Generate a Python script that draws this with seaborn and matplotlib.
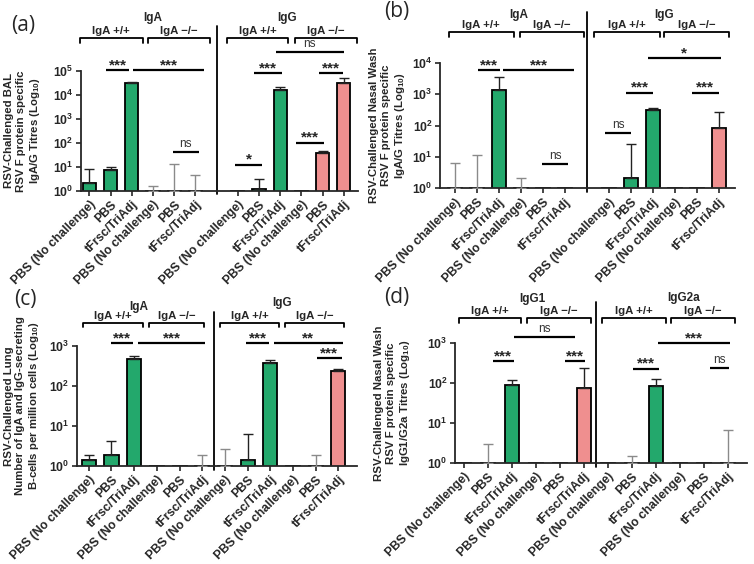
import numpy as np
import pandas as pd
import seaborn as sns
import matplotlib.pyplot as plt
from matplotlib.transforms import blended_transform_factory, offset_copy

sns.set_theme(style="ticks")
plt.rcParams['font.family'] = ['Liberation Sans', 'DejaVu Sans']
plt.rcParams['mathtext.fontset'] = 'custom'
plt.rcParams['mathtext.rm'] = 'Liberation Sans:bold'
plt.rcParams['mathtext.bf'] = 'Liberation Sans:bold'
plt.rcParams['mathtext.default'] = 'bf'

# categories (same for every panel)
labels = ["PBS (No challenge)", "PBS", "tFrsc/TriAdj"] * 4
genotype = (["IgA +/+"] * 3 + ["IgA −/−"] * 3) * 2
palette = {"IgA +/+": "#0DBE6E", "IgA −/−": "#FF7F7F"}

# group means (1.0 = nothing above the axis floor) and mean+SD tops
mean_a = [2.0, 7.5, 3.1e4, 1, 1, 1, 1, 1.2, 1.6e4, 1, 39, 3.1e4]
upper_a = [8, 9.5, 3.4e4, 1.6, 12.7, 4.4, np.nan, 3.0, 2.1e4, np.nan, 47, 5e4]

mean_b = [1, 1, 1350, 1, 1, 1, 1, 2.2, 312, 1, 1, 81]
upper_b = [6.2, 11.5, 3600, 2.1, np.nan, np.nan, np.nan, 26, 350, np.nan, np.nan, 263]

mean_c = [1.4, 1.85, 465, 1, 1, 1, 1, 1.4, 383, 1, 1, 232]
upper_c = [1.9, 4.1, 550, np.nan, np.nan, 1.9, 2.7, 6.4, 455, np.nan, 1.9, 263]

mean_d = [1, 1, 91, 1, 1, 75, 1, 1, 84, 1, 1, 1]
upper_d = [np.nan, 3.0, 120, np.nan, np.nan, 237, np.nan, 1.5, 124, np.nan, np.nan, 6.8]

ylabels = {
    "a": "RSV-Challenged BAL\nRSV F protein specific\nIgA/G Titres (Log$_{10}$)",
    "b": "RSV-Challenged Nasal Wash\nRSV F protein specific\nIgA/G Titres (Log$_{10}$)",
    "c": "RSV-Challenged Lung\nNumber of IgA and IgG-secreting\nB-cells per million cells (Log$_{10}$)",
    "d": "RSV-Challenged Nasal Wash\nRSV F protein specific\nIgG1/G2a Titres (Log$_{10}$)",
}
group_names = {"a": ["IgA", "IgG"], "b": ["IgA", "IgG"], "c": ["IgA", "IgG"], "d": ["IgG1", "IgG2a"]}
ymax_exp = {"a": 5, "b": 4, "c": 3, "d": 3}

# significance comparisons: (x from, x to, height in axes fraction, label)
sig = {
    "a": [(0.78, 1.88, 1.006, '***'), (2.07, 5.4, 1.006, '***'), (3.92, 5.17, 0.322, 'ns'),
          (8.8, 12.0, 1.157, 'ns'), (7.77, 9.07, 0.98, '***'), (10.84, 11.97, 0.98, '***'),
          (9.74, 11.06, 0.402, '***'), (6.88, 8.15, 0.218, '*')],
    "b": [(1.03, 2.03, 0.942, '***'), (2.2, 5.4, 0.942, '***'), (3.95, 5.14, 0.193, 'ns'),
          (8.76, 12.1, 1.035, '*'), (7.79, 9.0, 0.761, '***'), (10.77, 11.99, 0.761, '***'),
          (6.83, 8.0, 0.443, 'ns')],
    "c": [(0.97, 1.96, 1.025, '***'), (2.19, 5.12, 1.025, '***'), (6.93, 7.96, 1.025, '***'),
          (8.16, 11.2, 1.025, '**'), (10.04, 11.15, 0.9, '***')],
    "d": [(2.07, 4.64, 1.05, 'ns'), (1.21, 2.07, 0.85, '***'), (4.22, 5.05, 0.85, '***'),
          (8.07, 11.07, 1.0, '***'), (7.04, 8.11, 0.786, '***'), (10.26, 11.03, 0.79, 'ns')],
}

# layout
rects = {"a": [0.1074, 0.6619, 0.3674, 0.2122], "b": [0.584, 0.6661, 0.3908, 0.2227],
         "c": [0.1021, 0.1738, 0.3714, 0.2128], "d": [0.6039, 0.1791, 0.3865, 0.2128]}
xlims = {"a": (-0.4, 12.67), "b": (-0.67, 12.73), "c": (-0.52, 11.82), "d": (-0.36, 11.78)}
gap = {"a": 1, "b": 1, "c": 0, "d": 0}
brk_y = {"a": 1.275, "b": 1.242, "c": 1.194, "d": 1.208}
brk_x = {"a": [(-0.45, 2.51), (2.75, 5.68), (6.49, 9.36), (9.69, 12.6)],
         "b": [(-0.29, 2.67), (2.94, 5.85), (6.33, 9.3), (9.5, 12.47)],
         "c": [(-0.24, 2.38), (2.67, 5.08), (5.78, 8.4), (8.65, 11.25)],
         "d": [(-0.22, 2.38), (2.63, 5.29), (5.75, 8.43), (8.63, 11.3)]}
grp_pos = {"a": [(3.0, 1.445), (9.3, 1.445)], "b": [(2.9, 1.38), (9.49, 1.38)],
           "c": [(2.19, 1.325), (8.5, 1.36)], "d": [(2.83, 1.364), (9.15, 1.375)]}
div_top = {"a": 1.38, "b": 1.40, "c": 1.28, "d": 1.34}
ylab_x = {"a": -0.209, "b": -0.177, "c": -0.194, "d": -0.214}
panel_xy = {"a": (23, 25), "b": (397, 12), "c": (25, 299), "d": (397, 297)}

means = {"a": mean_a, "b": mean_b, "c": mean_c, "d": mean_d}
uppers = {"a": upper_a, "b": upper_b, "c": upper_c, "d": upper_d}

fig = plt.figure(figsize=(7.54, 5.64), dpi=100)

for key in ["a", "b", "c", "d"]:
    ax = fig.add_axes(rects[key])
    ax.set_yscale('log')
    pos = np.arange(12) + np.where(np.arange(12) >= 6, gap[key], 0)
    df = pd.DataFrame({"pos": pos, "mean": means[key], "upper": uppers[key],
                       "genotype": genotype})
    sns.barplot(data=df, x="pos", y="mean", hue="genotype", palette=palette,
                native_scale=True, dodge=False, width=0.62, edgecolor="black",
                linewidth=1.3, legend=False, ax=ax, zorder=2)

    # one-sided error bars
    for _, r in df.iterrows():
        if np.isnan(r["upper"]):
            continue
        has_bar = r["mean"] > 1.05
        ax.errorbar(r["pos"], r["mean"], yerr=[[0], [r["upper"] - r["mean"]]],
                    fmt='none', ecolor='#222222' if has_bar else '#8a8a8a',
                    elinewidth=1, capsize=3.5, capthick=1, zorder=3)

    ax.set_xlim(*xlims[key])
    ax.set_ylim(1, 10 ** ymax_exp[key])
    ax.set_yticks([10 ** k for k in range(ymax_exp[key] + 1)],
                  [f"$10^{{{k}}}$" for k in range(ymax_exp[key] + 1)])
    ax.minorticks_off()
    ax.set_xticks(pos)
    ax.set_xticklabels(labels, rotation=45, ha='right', rotation_mode='anchor',
                       fontsize=8.8, fontweight='bold')
    ax.tick_params(axis='both', length=3.5, width=1.2, labelsize=8.8, pad=2)
    ax.set_xlabel("")
    ax.set_ylabel(ylabels[key], fontsize=8.2, fontweight='bold', linespacing=1.2)
    ax.yaxis.label.set_va('center')
    ax.yaxis.set_label_coords(ylab_x[key], 0.5)
    sns.despine(ax=ax)
    for s in ["left", "bottom"]:
        ax.spines[s].set_linewidth(1.3)

    tr = blended_transform_factory(ax.transData, ax.transAxes)
    div_x = 5.5 + gap[key] / 2
    ax.plot([div_x, div_x], [-0.03, div_top[key]], color='black', lw=1.3,
            transform=tr, clip_on=False)

    # genotype brackets
    for (x0, x1), name in zip(brk_x[key], ["IgA +/+", "IgA −/−"] * 2):
        y = brk_y[key]
        ax.plot([x0, x0, x1, x1], [y - 0.04, y, y, y - 0.04], color='black', lw=1.3,
                transform=tr, clip_on=False)
        ax.text((x0 + x1) / 2, y, name, ha='center', va='bottom', fontsize=8.2,
                fontweight='bold', transform=offset_copy(tr, fig=fig, y=1.5, units='points'))
    for (gx, gy), name in zip(grp_pos[key], group_names[key]):
        ax.text(gx, gy, name, ha='center', va='center', fontsize=8.5,
                fontweight='bold', transform=tr)

    # significance lines
    for x0, x1, y, txt in sig[key]:
        ax.plot([x0, x1], [y, y], color='black', lw=1.6, transform=tr,
                clip_on=False, solid_capstyle='butt')
        if txt == 'ns':
            ax.text((x0 + x1) / 2, y, txt, ha='center', va='bottom', fontsize=8.5,
                    color='#333333',
                    transform=offset_copy(tr, fig=fig, y=1.5, units='points'))
        else:
            ax.text((x0 + x1) / 2, y, txt, ha='center', va='bottom', fontsize=11,
                    fontweight='bold',
                    transform=offset_copy(tr, fig=fig, y=-1.5, units='points'))

    px, py = panel_xy[key]
    fig.text(px / 754, 1 - py / 564, f"({key})", ha='center', va='center',
             fontsize=15, family='Open Sans')

fig.savefig("out.png", dpi=100)
